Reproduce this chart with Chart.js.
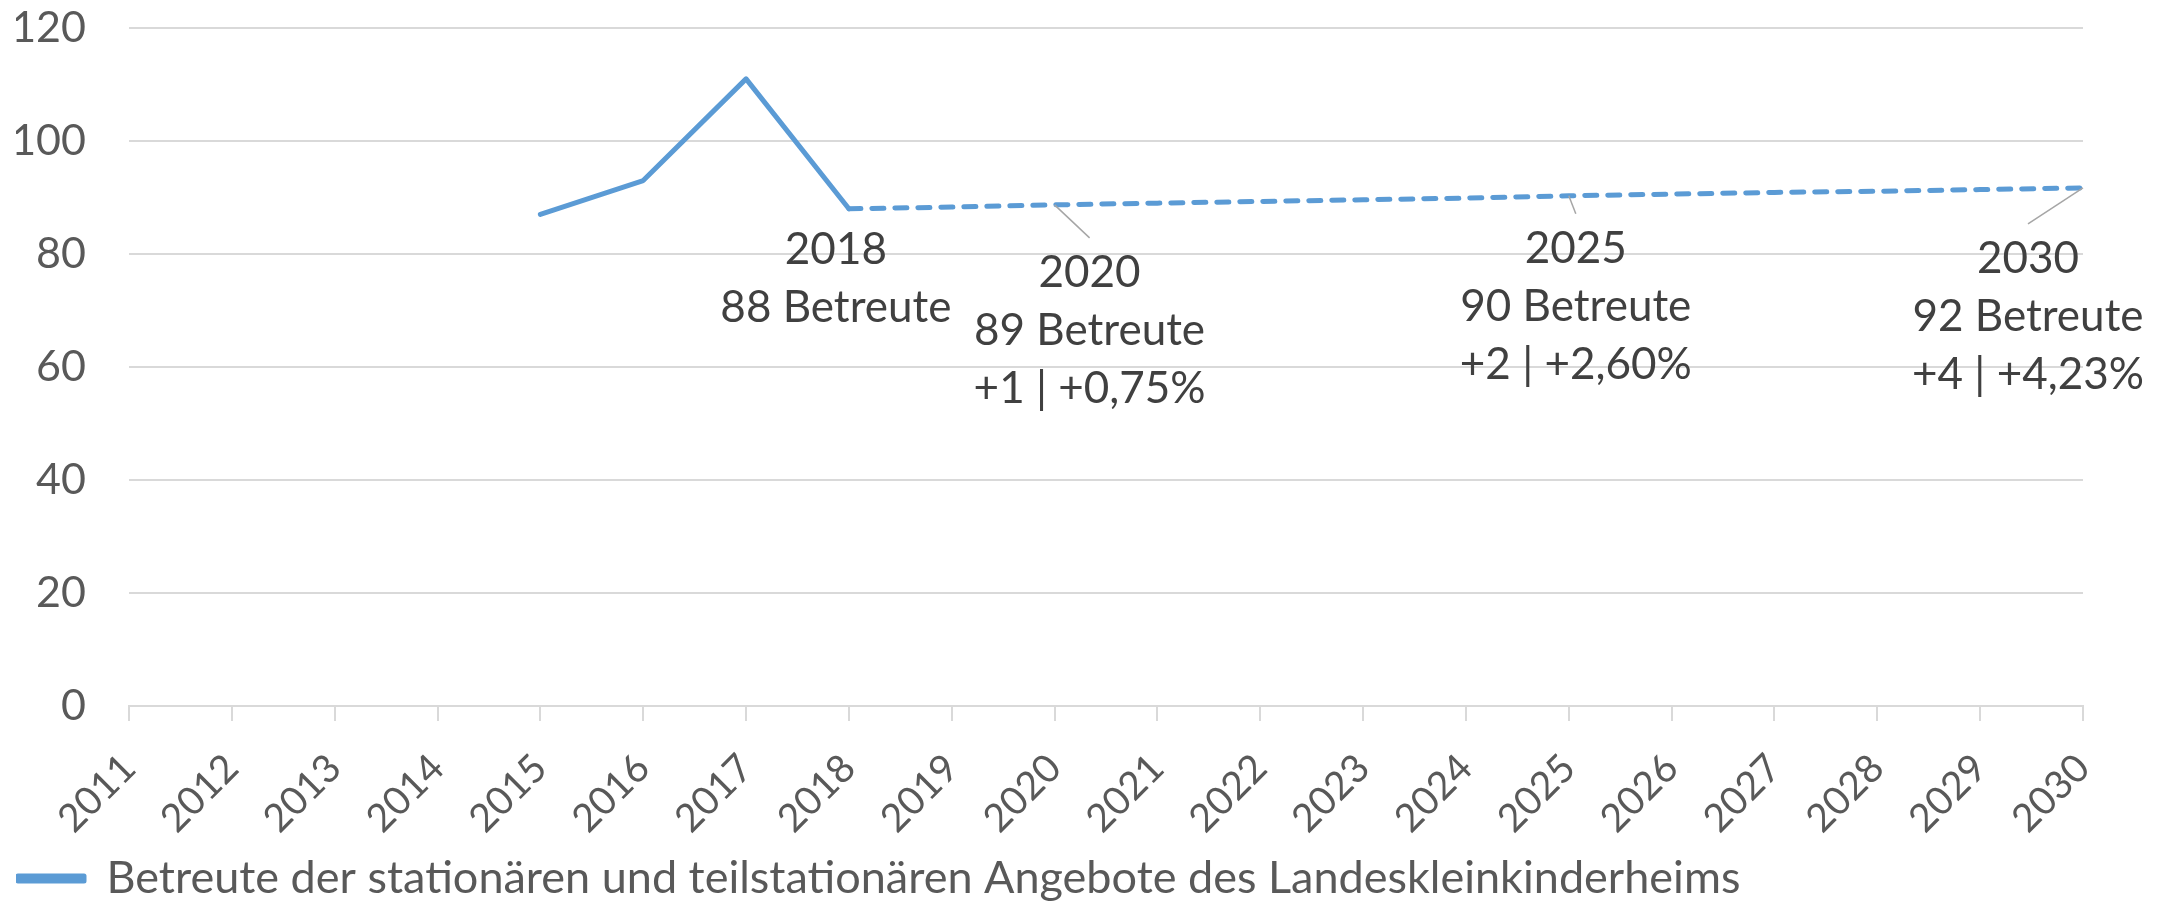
<!DOCTYPE html>
<html lang="de">
<head>
  <meta charset="UTF-8">
  <title>Betreute Landeskleinkinderheim</title>
  <script src="https://cdn.jsdelivr.net/npm/chart.js@4/dist/chart.umd.min.js"></script>
  <style>
    body { margin: 0; background: #fff; }
  </style>
</head>
<body>
  <canvas id="chart" width="2173" height="904"></canvas>

  <script>
    // data
    const years = ["2011", "2012", "2013", "2014", "2015", "2016", "2017", "2018", "2019", "2020",
      "2021", "2022", "2023", "2024", "2025", "2026", "2027", "2028", "2029", "2030"];
    const betreute = [null, null, null, null, 87, 93, 111, 88, 88.3, 88.7,
      89.0, 89.3, 89.6, 89.9, 90.3, 90.6, 90.9, 91.1, 91.4, 91.7];
    const forecastFrom = "2018";
    const yTicks = [0, 20, 40, 60, 80, 100, 120];
    const seriesName = "Betreute der stationären und teilstationären Angebote des Landeskleinkinderheims";

    const labelYears = ["2018", "2020", "2025", "2030"];
    const labelLines = [
      ["2018", "88 Betreute"],
      ["2020", "89 Betreute", "+1 | +0,75%"],
      ["2025", "90 Betreute", "+2 | +2,60%"],
      ["2030", "92 Betreute", "+4 | +4,23%"]
    ];

    const blue = "#5b9bd5";
    const grid = "#d9d9d9";
    const font = "Lato";

    // where each label sits relative to its point (dx, dy of first line, leader line yes/no)
    const labelPlacement = [
      { dx: -13, dy: 41, leader: false },
      { dx: 35, dy: 68, leader: true },
      { dx: 7, dy: 53, leader: true },
      { dx: -55, dy: 71, leader: true }
    ];

    const dataLabels = {
      id: "dataLabels",
      afterDatasetsDraw(chart) {
        const ctx = chart.ctx;
        const meta = chart.getDatasetMeta(0);
        ctx.save();
        ctx.font = "44px " + font;
        ctx.textAlign = "center";
        ctx.textBaseline = "middle";
        labelYears.forEach((yr, i) => {
          const pt = meta.data[years.indexOf(yr)];
          const p = labelPlacement[i];
          const cx = pt.x + p.dx;
          const cy = pt.y + p.dy;
          if (p.leader) {
            ctx.strokeStyle = "#a6a6a6";
            ctx.lineWidth = 1.5;
            ctx.beginPath();
            ctx.moveTo(pt.x, pt.y);
            ctx.lineTo(cx, cy - 35);
            ctx.stroke();
          }
          ctx.fillStyle = "#404040";
          labelLines[i].forEach((line, k) => {
            ctx.fillText(line, cx, cy + k * 58);
          });
        });
        ctx.restore();
      }
    };

    // fixed axis boxes so the plot area lands where the original has it
    const fitX = axis => {
      axis.height = 148;
      axis.paddingLeft = 0;
      axis.paddingRight = 0;
    };
    const fitY = axis => {
      axis.width = 113;
      axis.paddingTop = 0;
      axis.paddingBottom = 0;
    };

    const forecastIndex = years.indexOf(forecastFrom);

    new Chart("chart", {
      type: "line",
      data: {
        labels: years,
        datasets: [{
          label: seriesName,
          data: betreute,
          borderColor: blue,
          backgroundColor: blue,
          borderWidth: 5,
          borderCapStyle: "round",
          borderJoinStyle: "round",
          pointRadius: 0,
          tension: 0,
          segment: {
            borderDash: c => c.p0DataIndex >= forecastIndex ? [12, 11] : undefined
          }
        }]
      },
      options: {
        responsive: false,
        animation: false,
        layout: { padding: { left: 16, right: 90, top: 28, bottom: -7 } },
        plugins: {
          tooltip: { enabled: false },
          legend: {
            position: "bottom",
            align: "start",
            labels: {
              boxWidth: 66,
              boxHeight: 5,
              color: "#595959",
              font: { family: font, size: 45 },
              padding: 2
            }
          }
        },
        scales: {
          x: {
            offset: false,
            afterFit: fitX,
            grid: { drawOnChartArea: false, drawTicks: true, tickLength: 15, color: grid, lineWidth: 2 },
            border: { color: grid, width: 2 },
            ticks: {
              color: "#595959",
              font: { family: font, size: 39 },
              minRotation: 45,
              maxRotation: 45,
              padding: 24,
              labelOffset: 0,
              autoSkip: false
            }
          },
          y: {
            min: 0,
            max: 120,
            afterFit: fitY,
            afterBuildTicks: axis => { axis.ticks = yTicks.map(v => ({ value: v })); },
            grid: { color: grid, lineWidth: 2, drawTicks: false },
            border: { display: false },
            ticks: {
              color: "#595959",
              font: { family: font, size: 43 },
              padding: 43
            }
          }
        }
      },
      plugins: [dataLabels]
    });
  </script>
</body>
</html>
